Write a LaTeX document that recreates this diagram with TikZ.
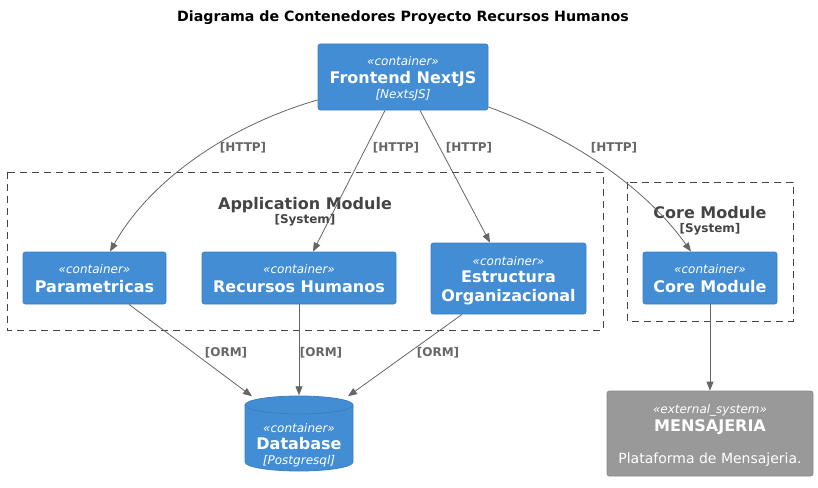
\documentclass[tikz,border=0pt]{standalone}
\usepackage{fontspec}
\setmainfont{DejaVu Sans}
\usetikzlibrary{arrows.meta,calc}
\definecolor{cblue}{HTML}{438DD5}
\definecolor{cblueb}{HTML}{3C7FC0}
\definecolor{cgray}{HTML}{999999}
\definecolor{cgrayb}{HTML}{8A8A8A}
\definecolor{cedge}{HTML}{666666}
\definecolor{cbound}{HTML}{444444}
\newcommand\xStereo{\fontsize{12}{14}\selectfont\itshape}
\newcommand\xName{\fontsize{16}{18}\selectfont\bfseries}
\newcommand\xTech{\fontsize{12}{14}\selectfont\itshape}
\newcommand\xLab{\fontsize{12}{14}\selectfont\bfseries}
\begin{document}
\begin{tikzpicture}[x=1pt,y=-1pt,
  cbox/.style={draw=cblueb, fill=cblue, rounded corners=2.5pt, line width=0.8pt, inner sep=0pt},
  gbox/.style={draw=cgrayb, fill=cgray, rounded corners=2.5pt, line width=0.8pt, inner sep=0pt},
  wtxt/.style={text=white, inner sep=0pt, anchor=base},
  bound/.style={draw=cbound, dash pattern=on 7pt off 5pt, line width=0.8pt},
  btxt/.style={text=cbound, inner sep=0pt, anchor=base},
  rel/.style={draw=cedge, line width=0.8pt, -{Triangle[length=9pt,width=7pt]}},
  rlab/.style={text=cedge, inner sep=0pt, font=\xLab},
]
\useasboundingbox (0,0) rectangle (818,487);
% title
\node[inner sep=0pt, font=\fontsize{14.2}{16}\selectfont\bfseries] (title) at (403,18) {Diagrama de Contenedores Proyecto Recursos Humanos};

% boundaries
\draw[bound] (7,172) rectangle (603,330);
\node[btxt, font=\xName] (appl) at (305,209) {Application Module};
\node[btxt, font=\xLab] (apps) at (305,223) {[System]};
\draw[bound] (627,182) rectangle (793,321);
\node[btxt, font=\xName] (corel) at (710,218) {Core Module};
\node[btxt, font=\xLab] (cores) at (710,232) {[System]};

% frontend
\node[cbox, minimum width=170pt, minimum height=66pt] (fe) at (403,77) {};
\node[wtxt, font=\xStereo] (fes) at (403,65) {«container»};
\node[wtxt, font=\xName] (fen) at (403,83) {Frontend NextJS};
\node[wtxt, font=\xTech] (fet) at (403,98) {[NextsJS]};

% parametricas
\node[cbox, minimum width=143pt, minimum height=52pt] (par) at (94.5,278) {};
\node[wtxt, font=\xStereo] (pars) at (94.5,273) {«container»};
\node[wtxt, font=\xName] (parn) at (94.5,292) {Parametricas};

% recursos humanos
\node[cbox, minimum width=194pt, minimum height=52pt] (rh) at (299,278) {};
\node[wtxt, font=\xStereo] (rhs) at (299,273) {«container»};
\node[wtxt, font=\xName] (rhn) at (299,292) {Recursos Humanos};

% estructura organizacional
\node[cbox, minimum width=155pt, minimum height=71pt] (eo) at (508.5,278.5) {};
\node[wtxt, font=\xStereo] (eos) at (508.5,265) {«container»};
\node[wtxt, font=\xName] (eon1) at (508.5,282) {Estructura};
\node[wtxt, font=\xName] (eon2) at (508.5,301) {Organizacional};

% core module
\node[cbox, minimum width=134pt, minimum height=52pt] (core) at (710,278) {};
\node[wtxt, font=\xStereo] (cores2) at (710,273) {«container»};
\node[wtxt, font=\xName] (coren) at (710,292) {Core Module};

% database cylinder
\node[inner sep=0pt, minimum width=108pt, minimum height=76pt] (db) at (299,433.5) {};
\fill[cblue, draw=cblueb, line width=0.8pt] (245,405) -- (245,462)
  arc[start angle=180, end angle=360, x radius=54pt, y radius=9pt] -- (353,405)
  arc[start angle=0, end angle=180, x radius=54pt, y radius=9pt] -- cycle;
\draw[cblueb, line width=0.8pt] (245,405) arc[start angle=180, end angle=360, x radius=54pt, y radius=9pt];
\node[wtxt, font=\xStereo] (dbs) at (299,432) {«container»};
\node[wtxt, font=\xName] (dbn) at (299,449) {Database};
\node[wtxt, font=\xTech] (dbt) at (299,464) {[Postgresql]};

% mensajeria
\node[gbox, minimum width=206pt, minimum height=85pt] (men) at (710,433.5) {};
\node[wtxt, font=\xStereo] (mens) at (710,413) {«external\_system»};
\node[wtxt, font=\xName] (menn) at (710,431) {MENSAJERIA};
\node[wtxt, font=\fontsize{14}{16}\selectfont] (mend) at (710,463) {Plataforma de Mensajeria.};

% relations
\draw[rel] ([yshift=-23pt]fe.west) .. controls (230,125) and (150,180) .. ([xshift=15.5pt]par.north);
\draw[rel] ([xshift=-18pt]fe.south) -- ([xshift=14pt]rh.north);
\draw[rel] ([xshift=17pt]fe.south) -- ([xshift=-18.5pt]eo.north);
\draw[rel] ([yshift=-30pt]fe.east) .. controls (560,133) and (640,180) .. ([xshift=-19pt]core.north);
\draw[rel] ([xshift=34.5pt]par.south) -- ($(db.north)+(-47pt,-1pt)$);
\draw[rel] (rh.south) -- (db.north);
\draw[rel] ([xshift=-46.5pt]eo.south) -- ($(db.north)+(49pt,-1pt)$);
\draw[rel] (core.south) -- (men.north);

\node[rlab] (l1) at (243,148) {[HTTP]};
\node[rlab] (l2) at (396,148) {[HTTP]};
\node[rlab] (l3) at (469,148) {[HTTP]};
\node[rlab] (l4) at (614,148) {[HTTP]};
\node[rlab] (l5) at (226,353) {[ORM]};
\node[rlab] (l6) at (321,353) {[ORM]};
\node[rlab] (l7) at (438,353) {[ORM]};
\end{tikzpicture}
\end{document}
